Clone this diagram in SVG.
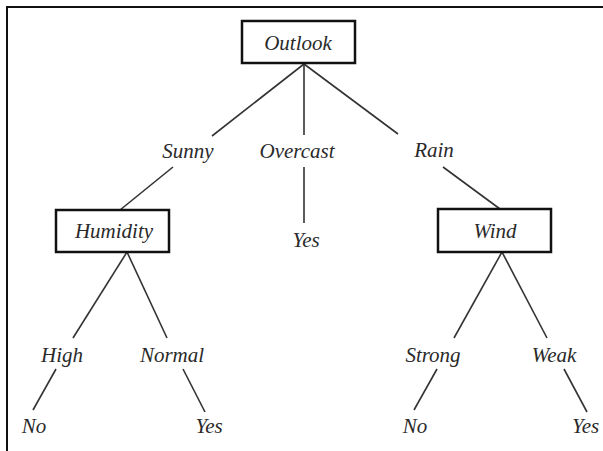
<svg xmlns="http://www.w3.org/2000/svg" width="603" height="451" viewBox="0 0 603 451">
<style>
.bg{fill:#ffffff}
.frame{fill:none;stroke:#111;stroke-width:2}
.box{fill:#ffffff;stroke:#111;stroke-width:2.5}
.edge{stroke:#333;stroke-width:1.6;fill:none}
text{font-family:"Liberation Serif","Times New Roman",serif;font-style:italic;font-size:21px;fill:#2a2a2a}
.m{text-anchor:middle}
</style>
<rect class="bg" x="0" y="0" width="603" height="451"/>
<path class="frame" d="M7,451 V7 H603"/>
<g id="connectors">
<line class="edge" x1="304" y1="64" x2="212" y2="136"/>
<line class="edge" x1="304" y1="64" x2="304" y2="135"/>
<line class="edge" x1="304" y1="64" x2="398" y2="134"/>
<line class="edge" x1="173" y1="167" x2="120" y2="210"/>
<line class="edge" x1="304" y1="167" x2="304" y2="223"/>
<line class="edge" x1="443" y1="167" x2="500" y2="209"/>
<line class="edge" x1="127" y1="252" x2="73" y2="338"/>
<line class="edge" x1="127" y1="252" x2="167" y2="338"/>
<line class="edge" x1="502" y1="252" x2="454" y2="338"/>
<line class="edge" x1="502" y1="252" x2="547" y2="338"/>
<line class="edge" x1="56" y1="369" x2="33" y2="410"/>
<line class="edge" x1="183" y1="369" x2="205" y2="412"/>
<line class="edge" x1="437" y1="369" x2="414" y2="410"/>
<line class="edge" x1="564" y1="369" x2="587" y2="412"/>
</g>
<g id="outlook"><rect class="box" x="242" y="21" width="113" height="42"/><text class="m" x="298" y="50">Outlook</text></g>
<g id="sunny"><text class="m" x="188" y="158">Sunny</text></g>
<g id="overcast"><text class="m" x="297" y="158">Overcast</text></g>
<g id="rain"><text class="m" x="434" y="157">Rain</text></g>
<g id="humidity"><rect class="box" x="56" y="210" width="113" height="42"/><text class="m" x="114" y="238">Humidity</text></g>
<g id="yes-overcast"><text class="m" x="306" y="247">Yes</text></g>
<g id="wind"><rect class="box" x="438" y="209" width="113" height="43"/><text class="m" x="495" y="238">Wind</text></g>
<g id="high"><text class="m" x="62" y="362">High</text></g>
<g id="normal"><text class="m" x="172" y="362">Normal</text></g>
<g id="strong"><text class="m" x="433" y="362">Strong</text></g>
<g id="weak"><text class="m" x="554" y="362">Weak</text></g>
<g id="no-high"><text class="m" x="34" y="433">No</text></g>
<g id="yes-normal"><text class="m" x="209" y="433">Yes</text></g>
<g id="no-strong"><text class="m" x="415" y="433">No</text></g>
<g id="yes-weak"><text x="572" y="433">Yes</text></g>
</svg>
